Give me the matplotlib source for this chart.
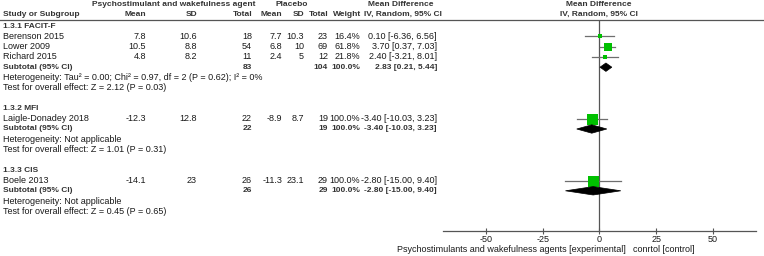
import matplotlib
matplotlib.use("Agg")
import matplotlib.pyplot as plt
from matplotlib.patches import Polygon

plt.rcParams['font.family'] = ['Liberation Sans', 'DejaVu Sans']

# ---------------- data ----------------
groups = ["1.3.1 FACIT-F", "1.3.2 MFI", "1.3.3 CIS"]
studies = [["Berenson 2015", "Lower 2009", "Richard 2015"],
           ["Laigle-Donadey 2018"],
           ["Boele 2013"]]
exp_mean = [[7.8, 10.5, 4.8], [-12.3], [-14.1]]
exp_sd = [[10.6, 8.8, 8.2], [12.8], [23]]
exp_n = [[18, 54, 11], [22], [26]]
ctl_mean = [[7.7, 6.8, 2.4], [-8.9], [-11.3]]
ctl_sd = [[10.3, 10, 5], [8.7], [23.1]]
ctl_n = [[23, 69, 12], [19], [29]]
weights = [[16.4, 61.8, 21.8], [100.0], [100.0]]
md = [[0.10, 3.70, 2.40], [-3.40], [-2.80]]
ci_lo = [[-6.36, 0.37, -3.21], [-10.03], [-15.00]]
ci_hi = [[6.56, 7.03, 8.01], [3.23], [9.40]]
sub_n_exp = [83, 22, 26]
sub_n_ctl = [104, 19, 29]
sub_md = [2.83, -3.40, -2.80]
sub_lo = [0.21, -10.03, -15.00]
sub_hi = [5.44, 3.23, 9.40]
heterogeneity = ["Heterogeneity: Tau\u00b2 = 0.00; Chi\u00b2 = 0.97, df = 2 (P = 0.62); I\u00b2 = 0%",
                 "Heterogeneity: Not applicable",
                 "Heterogeneity: Not applicable"]
overall = ["Test for overall effect: Z = 2.12 (P = 0.03)",
           "Test for overall effect: Z = 1.01 (P = 0.31)",
           "Test for overall effect: Z = 0.45 (P = 0.65)"]
xticks = [-50, -25, 0, 25, 50]
label_left = "Psychostimulants and wakefulness agents [experimental]"
label_right = "conrtol [control]"

# ---------------- layout ----------------
W, H = 764, 256
fig = plt.figure(figsize=(W / 100, H / 100), dpi=100)
ax = fig.add_axes([0, 0, 1, 1])
ax.set_xlim(0, W)
ax.set_ylim(H, 0)
ax.axis('off')

FS = 6.5
FSB = 6.0
HDR = '#333333'
TXT = '#1a1a1a'

def t(x, y, s, ha='left', bold=False, color=TXT):
    ax.text(x, y, s, ha=ha, va='center', fontsize=FSB if bold else FS,
            fontweight='bold' if bold else 'normal', color=color)

# forest axes geometry (pixel)
fx_left, fx_right = 443, 756
y_line, y_axis = 20.0, 231
fx = fig.add_axes([fx_left / W, 1 - y_axis / H, (fx_right - fx_left) / W, (y_axis - y_line) / H])
fx.set_xlim(-69, 69)
fx.set_ylim(y_axis, y_line)
fx.patch.set_alpha(0)
for s in ['top', 'left', 'right']:
    fx.spines[s].set_visible(False)
fx.spines['bottom'].set_color('#555555')
fx.spines['bottom'].set_linewidth(0.9)
fx.set_yticks([])
fx.set_xticks(xticks)
fx.set_xticklabels([str(v) for v in xticks])
fx.tick_params(axis='x', direction='inout', length=4, width=0.8, color='#555555',
               labelsize=FS, labelcolor=TXT, pad=1)
fx.axvline(0, color='#555555', lw=0.9)

# headers
t(174, 5, "Psychostimulant and wakefulness agent", ha='center', bold=True, color=HDR)
t(292, 5, "Placebo", ha='center', bold=True, color=HDR)
t(401, 5, "Mean Difference", ha='center', bold=True, color=HDR)
t(599, 5, "Mean Difference", ha='center', bold=True, color=HDR)
t(3, 14.5, "Study or Subgroup", bold=True, color=HDR)
t(146, 14.5, "Mean", ha='right', bold=True, color=HDR)
t(197, 14.5, "SD", ha='right', bold=True, color=HDR)
t(252, 14.5, "Total", ha='right', bold=True, color=HDR)
t(282, 14.5, "Mean", ha='right', bold=True, color=HDR)
t(304, 14.5, "SD", ha='right', bold=True, color=HDR)
t(328, 14.5, "Total", ha='right', bold=True, color=HDR)
t(361, 14.5, "Weight", ha='right', bold=True, color=HDR)
t(403, 14.5, "IV, Random, 95% CI", ha='center', bold=True, color=HDR)
t(599, 14.5, "IV, Random, 95% CI", ha='center', bold=True, color=HDR)
ax.plot([0, W], [y_line, y_line], color='#555555', lw=0.9)

def fmt(v):
    return ("%g" % v)

GREEN = '#00c000'
row_h = 10.3
CI_X = 437
W_X = 360
y = 26.0
for g in range(len(groups)):
    t(3, y, groups[g], bold=True, color=HDR)
    y += row_h
    for i, name in enumerate(studies[g]):
        t(3, y, name)
        t(146, y, fmt(exp_mean[g][i]), ha='right')
        t(197, y, fmt(exp_sd[g][i]), ha='right')
        t(252, y, str(exp_n[g][i]), ha='right')
        t(282, y, fmt(ctl_mean[g][i]), ha='right')
        t(304, y, fmt(ctl_sd[g][i]), ha='right')
        t(328, y, str(ctl_n[g][i]), ha='right')
        t(W_X, y, "%.1f%%" % weights[g][i], ha='right')
        t(CI_X, y, "%.2f [%.2f, %.2f]" % (md[g][i], ci_lo[g][i], ci_hi[g][i]), ha='right')
        fx.plot([ci_lo[g][i], ci_hi[g][i]], [y, y], color='#6e6e6e', lw=0.9, zorder=2)
        side = 2 + 9 * weights[g][i] / 100.0
        fx.scatter([md[g][i]], [y], marker='s', s=(side * 0.72) ** 2, color=GREEN,
                   linewidths=0, zorder=3)
        y += row_h
    t(3, y, "Subtotal (95% CI)", bold=True, color=HDR)
    t(252, y, str(sub_n_exp[g]), ha='right', bold=True, color=HDR)
    t(328, y, str(sub_n_ctl[g]), ha='right', bold=True, color=HDR)
    t(W_X, y, "100.0%", ha='right', bold=True, color=HDR)
    t(CI_X, y, "%.2f [%.2f, %.2f]" % (sub_md[g], sub_lo[g], sub_hi[g]), ha='right', bold=True, color=HDR)
    dh = 4.2
    fx.add_patch(Polygon([[sub_lo[g], y], [sub_md[g], y - dh], [sub_hi[g], y], [sub_md[g], y + dh]],
                         closed=True, facecolor='black', edgecolor='black', lw=0.5, zorder=4))
    y += row_h
    t(3, y, heterogeneity[g])
    y += row_h
    t(3, y, overall[g])
    y += 2 * row_h

t(626, 249, label_left, ha='right')
t(633, 249, label_right, ha='left')

fig.savefig("out.png", dpi=100)
